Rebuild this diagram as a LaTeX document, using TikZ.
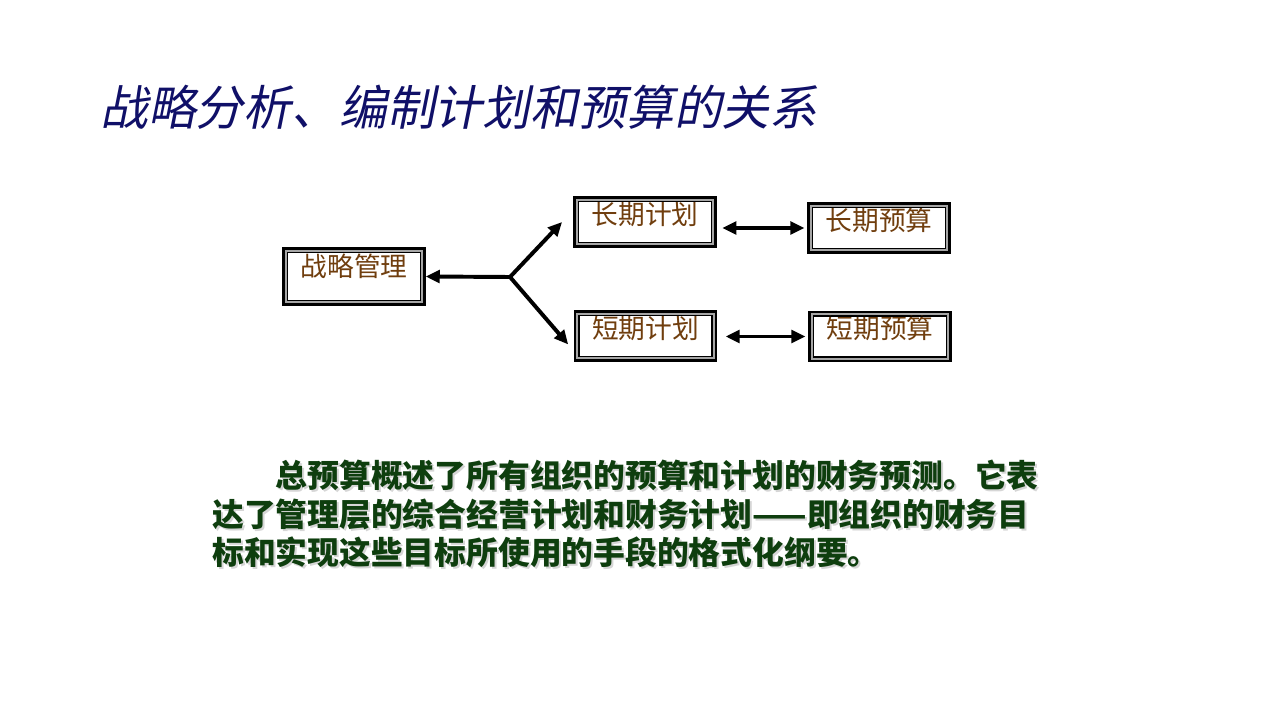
\documentclass[tikz,border=0pt]{standalone}
\usepackage{fontspec}
\setmainfont{Noto Sans CJK SC}
\newfontfamily\titlefont{Noto Sans CJK SC}[FakeSlant=0.2]
\usetikzlibrary{arrows.meta}
\definecolor{titleblue}{RGB}{16,16,104}
\definecolor{boxbrown}{RGB}{112,62,14}
\definecolor{textgreen}{RGB}{14,62,14}
\tikzset{
  box/.style={draw,line width=3.8pt,minimum width=3.45cm,minimum height=1.15cm,
    inner sep=0pt,text=boxbrown,font=\fontsize{19pt}{19pt}\selectfont,
    text height=0.88em,text depth=5.5pt},
  arr/.style={line width=2.8pt,-{Triangle[length=10pt,width=9pt]}},
  darr/.style={line width=2.8pt,{Triangle[length=10pt,width=9pt]}-{Triangle[length=10pt,width=9pt]}}
}
\begin{document}
\begin{tikzpicture}[x=0.025cm,y=-0.025cm]
  \useasboundingbox[fill=white] (0,0) rectangle (1280,720);

  \node [anchor=west,inner sep=0pt,text=titleblue,font=\titlefont\fontsize{34pt}{36pt}\selectfont] (title) at (100,107) {战略分析、编制计划和预算的关系};

  \node [box,minimum height=1.33cm,text depth=9pt] (sm) at (354,276.5) {战略管理};
  \node [box] (cj) at (645,222) {长期计划};
  \node [box] (dj) at (645.5,336) {短期计划};
  \node [box] (cy) at (879,228) {长期预算};
  \node [box] (dy) at (880,336.5) {短期预算};

  \foreach \n in {sm,cj,dj,cy,dy} {
    \draw [gray!70,line width=1.5pt] ([shift={(3.6,-3.6)}]\n.south west) rectangle ([shift={(-3.6,3.6)}]\n.north east);
    \draw [line width=0.8pt] ([shift={(5.4,-5.4)}]\n.south west) rectangle ([shift={(-5.4,5.4)}]\n.north east);
  }

  \coordinate (br) at (510,277);
  \draw [arr] (br) -- (sm.east);
  \draw [arr] (br) -- ([xshift=-8pt]cj.west);
  \draw [arr] (br) -- ([shift={(-4pt,-6pt)}]dj.west);
  \draw [darr,shorten <=4pt,shorten >=2pt] (cj.east |- cy.west) -- (cy.west);
  \draw [darr,shorten <=6pt,shorten >=2pt] (dj.east |- dy.west) -- (dy.west);

  \node [anchor=north west,inner sep=0pt,align=left,text=black!16,
    font=\bfseries\fontsize{22.6pt}{27.4pt}\selectfont] (shadow) at (214,462)
    {\hspace*{2em}总预算概述了所有组织的预算和计划的财务预测。它表\\
     达了管理层的综合经营计划和财务计划——即组织的财务目\\
     标和实现这些目标所使用的手段的格式化纲要。};
  \node [anchor=north west,inner sep=0pt,align=left,text=textgreen,
    font=\bfseries\fontsize{22.6pt}{27.4pt}\selectfont] (para) at (212,460)
    {\hspace*{2em}总预算概述了所有组织的预算和计划的财务预测。它表\\
     达了管理层的综合经营计划和财务计划——即组织的财务目\\
     标和实现这些目标所使用的手段的格式化纲要。};
\end{tikzpicture}
\end{document}
